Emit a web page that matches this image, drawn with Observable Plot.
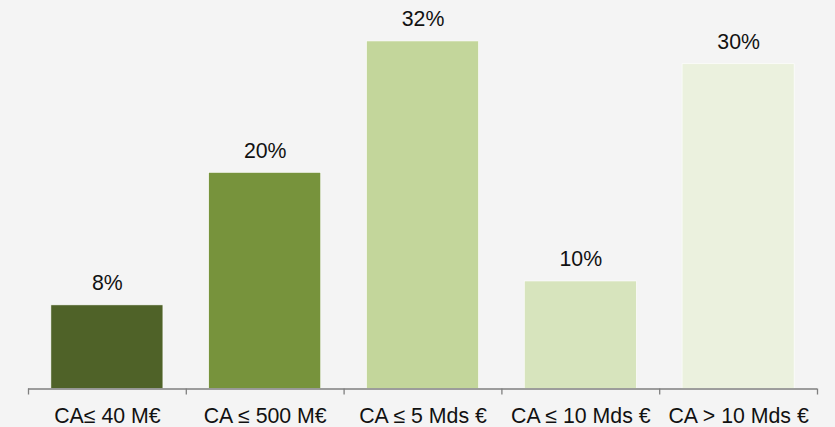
<!DOCTYPE html>
<html>
<head>
<meta charset="utf-8">
<script src="https://cdn.jsdelivr.net/npm/d3@7"></script>
<script src="https://cdn.jsdelivr.net/npm/@observablehq/plot@0.6"></script>
<style>
  html, body { margin: 0; padding: 0; background: #f4f4f4; }
  #chart svg { display: block; }
</style>
</head>
<body>
<div id="chart"></div>
<script>
const categories = ["CA≤ 40 M€", "CA ≤ 500 M€", "CA ≤ 5 Mds €", "CA ≤ 10 Mds €", "CA > 10 Mds €"];
const values = [7.7, 19.9, 32, 9.9, 29.9];
const labels = ["8%", "20%", "32%", "10%", "30%"];
const colors = ["#4f6228", "#77933c", "#c3d69b", "#d7e4bd", "#ebf1de"];

const data = categories.map((c, i) => ({cat: c, value: values[i], label: labels[i], color: colors[i]}));

const W = 835, H = 427;
const mL = 28, mR = 18;
const step = (W - mL - mR) / categories.length;
const font = "'Liberation Sans', Arial, sans-serif";

const chart = Plot.plot({
  width: W,
  height: H,
  marginLeft: mL,
  marginRight: mR,
  marginTop: 0,
  marginBottom: 38.5,
  style: {background: "#f4f4f4", fontFamily: font, fontSize: "21.3px", color: "#111"},
  x: {domain: categories, paddingInner: 0.29, paddingOuter: 0.145, round: false},
  y: {domain: [0, 35.77], axis: null},
  marks: [
    Plot.barY(data, {x: "cat", y: "value", fill: d => d.color, stroke: "#ffffff", strokeWidth: 0.6}),
    Plot.text(data, {x: "cat", y: "value", text: "label", dy: -15, lineAnchor: "bottom", fill: "#111", fontSize: 21.3}),
    Plot.ruleY([0], {stroke: "#7f7f7f", strokeWidth: 1.3}),
    Plot.ruleX(categories, {x: d => d, dx: -step / 2, y1: 0, y2: 0, insetBottom: -6, stroke: "#7f7f7f", strokeWidth: 1.3}),
    Plot.ruleX(categories.slice(-1), {x: d => d, dx: step / 2, y1: 0, y2: 0, insetBottom: -6, stroke: "#7f7f7f", strokeWidth: 1.3}),
    Plot.axisX({tickSize: 0, tickPadding: 18.5, label: null, fill: "#111", fontSize: 21.3})
  ]
});
document.getElementById("chart").appendChild(chart);
</script>
</body>
</html>
